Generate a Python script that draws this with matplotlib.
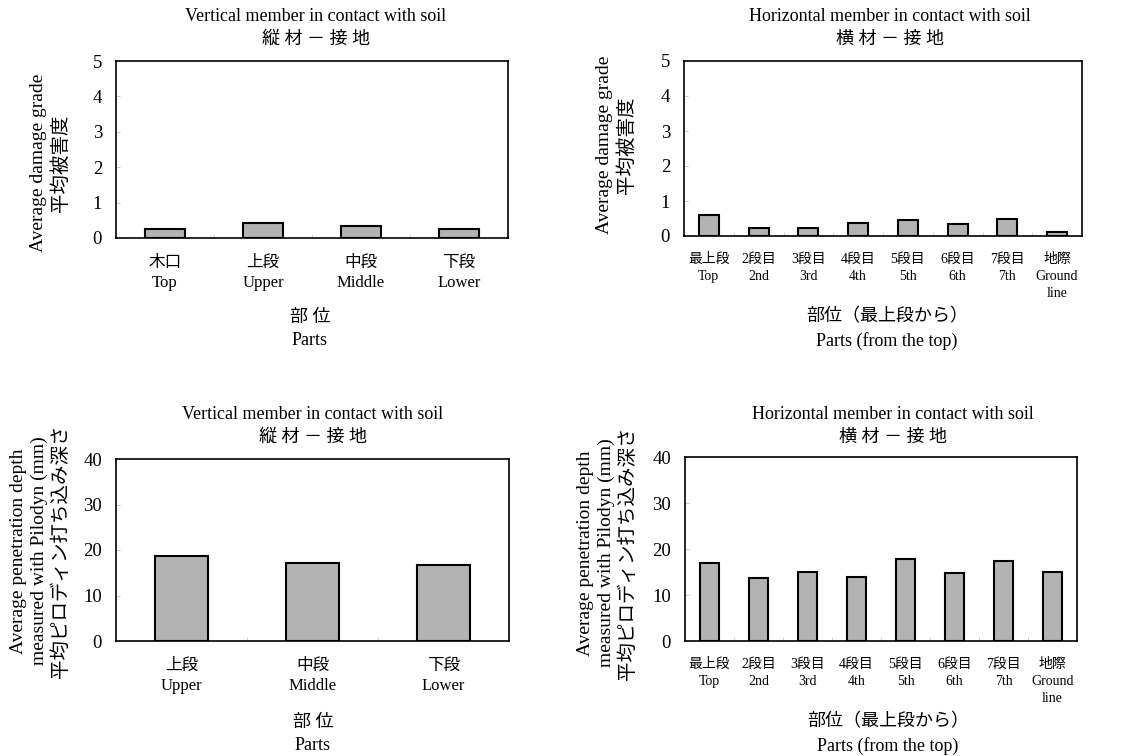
import matplotlib
matplotlib.use("Agg")
import matplotlib.pyplot as plt
import numpy as np

plt.rcParams['font.family'] = ['Liberation Serif', 'Noto Sans CJK JP', 'DejaVu Sans']

# --- data ---
vert_parts = ["木口\nTop", "上段\nUpper", "中段\nMiddle", "下段\nLower"]
vert_damage = [0.25, 0.43, 0.34, 0.25]

horiz_parts = ["最上段\nTop", "2段目\n2nd", "3段目\n3rd", "4段目\n4th",
               "5段目\n5th", "6段目\n6th", "7段目\n7th", "地際\nGround\nline"]
horiz_damage = [0.59, 0.23, 0.23, 0.38, 0.46, 0.34, 0.50, 0.11]

vert_pilo_parts = ["上段\nUpper", "中段\nMiddle", "下段\nLower"]
vert_pilodyn = [18.6, 17.2, 16.7]

horiz_pilodyn = [17.0, 13.7, 15.0, 13.9, 17.9, 14.8, 17.5, 15.0]

title_vert = "Vertical member in contact with soil\n縦 材 － 接 地"
title_horiz = "Horizontal member in contact with soil\n横 材 － 接 地"
xlab_vert = "部 位\nParts"
xlab_horiz = "部位（最上段から）\nParts (from the top)"
ylab_damage = "Average damage grade\n平均被害度"
ylab_pilo = "Average penetration depth\nmeasured with Pilodyn (mm)\n平均ピロディン打ち込み深さ"

W, H = 1122, 756
fig = plt.figure(figsize=(W / 100, H / 100), dpi=100)


def px_axes(l, t, r, b):
    return fig.add_axes([l / W, 1 - b / H, (r - l) / W, (b - t) / H])


def draw(ax, labels, values, ymax, ystep, tick_size):
    x = np.arange(len(values))
    ax.bar(x, values, width=0.4, color='#b3b3b3', edgecolor='black', linewidth=1.5, zorder=3)
    ax.set_xlim(-0.5, len(values) - 0.5)
    ax.set_ylim(0, ymax)
    ax.set_yticks(np.arange(0, ymax + 0.1, ystep))
    ax.set_xticks(x)
    ax.set_xticklabels(labels, fontsize=tick_size, linespacing=1.4)
    ax.set_xticks(np.arange(0.5, len(values) - 0.5), minor=True)
    ax.tick_params(axis='x', which='major', length=0, pad=12)
    ax.tick_params(axis='x', which='minor', direction='in', length=3, color='#cccccc')
    ax.tick_params(axis='y', direction='in', length=3, color='#cccccc', labelsize=13.5, pad=10)
    for s in ax.spines.values():
        s.set_linewidth(1.2)


def ftext(x, y, s, **kw):
    fig.text(x / W, 1 - y / H, s, ha='center', va='center', **kw)


# top left
ax1 = px_axes(116, 61, 508, 238)
draw(ax1, vert_parts, vert_damage, 5, 1, 12)
ftext(316, 28, title_vert, fontsize=13, linespacing=1.4)
ftext(50, 163, ylab_damage, fontsize=14, rotation=90, linespacing=1.35)
ftext(310, 329, xlab_vert, fontsize=13, linespacing=1.45)

# top right
ax2 = px_axes(684, 61, 1082, 236)
draw(ax2, horiz_parts, horiz_damage, 5, 1, 10)
ftext(890, 28, title_horiz, fontsize=13, linespacing=1.4)
ftext(616, 145, ylab_damage, fontsize=14, rotation=90, linespacing=1.35)
ftext(887, 329, xlab_horiz, fontsize=13, linespacing=1.45)

# bottom left
ax3 = px_axes(116, 459, 509, 641)
draw(ax3, vert_pilo_parts, vert_pilodyn, 40, 10, 12)
ftext(313, 426, title_vert, fontsize=13, linespacing=1.4)
ftext(40, 551, ylab_pilo, fontsize=14, rotation=90, linespacing=1.25)
ftext(313, 734, xlab_vert, fontsize=13, linespacing=1.45)

# bottom right
ax4 = px_axes(685, 457, 1077, 641)
draw(ax4, horiz_parts, horiz_pilodyn, 40, 10, 10)
ftext(893, 426, title_horiz, fontsize=13, linespacing=1.4)
ftext(607, 553, ylab_pilo, fontsize=14, rotation=90, linespacing=1.25)
ftext(888, 734, xlab_horiz, fontsize=13, linespacing=1.45)

fig.savefig("out.png", dpi=100)
